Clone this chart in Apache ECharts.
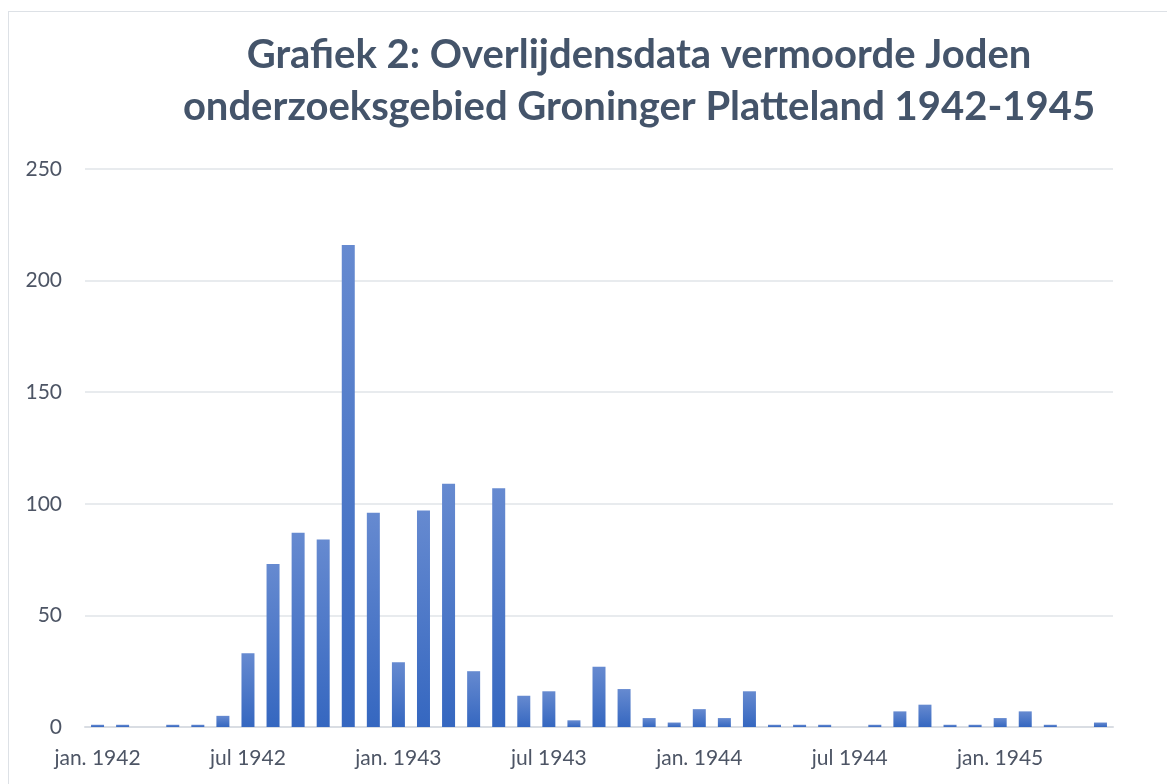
<!DOCTYPE html>
<html>
<head>
<meta charset="utf-8">
<script src="https://cdn.jsdelivr.net/npm/echarts@6/dist/echarts.min.js"></script>
<style>
html,body{margin:0;padding:0;background:#fff;}
#frame{position:absolute;left:8px;top:11px;width:1300px;height:900px;border:1.5px solid #dde1e6;box-sizing:border-box;}
#chart{position:absolute;left:0;top:0;width:1167px;height:784px;}
</style>
</head>
<body>
<div id="frame"></div>
<div id="chart"></div>
<script>
const titleLines = ["Grafiek 2: Overlijdensdata vermoorde Joden", "onderzoeksgebied Groninger Platteland 1942-1945"];
const months = [
  "jan. 1942","feb. 1942","mrt. 1942","apr. 1942","mei 1942","jun. 1942",
  "jul 1942","aug. 1942","sep. 1942","okt. 1942","nov. 1942","dec. 1942",
  "jan. 1943","feb. 1943","mrt. 1943","apr. 1943","mei 1943","jun. 1943",
  "jul 1943","aug. 1943","sep. 1943","okt. 1943","nov. 1943","dec. 1943",
  "jan. 1944","feb. 1944","mrt. 1944","apr. 1944","mei 1944","jun. 1944",
  "jul 1944","aug. 1944","sep. 1944","okt. 1944","nov. 1944","dec. 1944",
  "jan. 1945","feb. 1945","mrt. 1945","apr. 1945","mei 1945"
];
const deaths = [
  1, 1, 0, 1, 1, 5,
  33, 73, 87, 84, 216, 96,
  29, 97, 109, 25, 107, 14,
  16, 3, 27, 17, 4, 2,
  8, 4, 16, 1, 1, 1,
  0, 1, 7, 10, 1, 1,
  4, 7, 1, 0, 2
];
const yTicks = { min: 0, max: 250, interval: 50 };

const chart = echarts.init(document.getElementById('chart'), null, {renderer: 'canvas'});
chart.setOption({
  animation: false,
  backgroundColor: 'transparent',
  title: {
    text: titleLines.join('\n'),
    left: 634,
    top: 24,
    textAlign: 'center',
    textStyle: {
      fontFamily: 'Lato',
      fontWeight: 'bold',
      fontSize: 40,
      lineHeight: 52,
      color: '#44546A'
    }
  },
  grid: { left: 85, right: 54, top: 169, bottom: 57, containLabel: false },
  xAxis: {
    type: 'category',
    data: months,
    boundaryGap: true,
    axisLine: { show: true, lineStyle: { color: '#d9dde3', width: 2 } },
    axisTick: { show: false },
    axisLabel: {
      interval: 5,
      margin: 21,
      color: '#4d5565',
      fontFamily: 'Lato',
      fontSize: 21
    },
    splitLine: { show: false }
  },
  yAxis: {
    type: 'value',
    min: yTicks.min,
    max: yTicks.max,
    interval: yTicks.interval,
    axisLine: { show: false },
    axisTick: { show: false },
    axisLabel: { margin: 23, color: '#4d5565', fontFamily: 'Lato', fontSize: 21 },
    splitLine: { lineStyle: { color: '#e1e4e9', width: 1.5 } }
  },
  series: [{
    type: 'bar',
    data: deaths,
    barWidth: 13,
    itemStyle: {
      color: new echarts.graphic.LinearGradient(0, 0, 0, 1, [
        { offset: 0, color: '#668ad0' },
        { offset: 1, color: '#3567c0' }
      ])
    }
  }]
});
</script>
</body>
</html>
